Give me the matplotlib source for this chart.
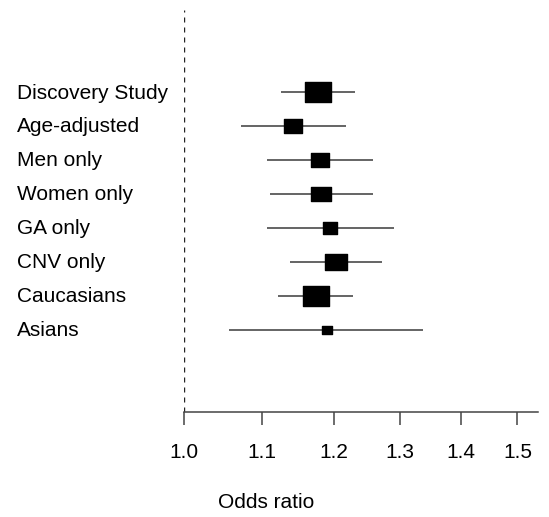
import matplotlib
matplotlib.use("Agg")
import matplotlib.pyplot as plt
from matplotlib.path import Path
from matplotlib.ticker import FixedLocator, NullLocator, FuncFormatter
from matplotlib.transforms import blended_transform_factory

plt.rcParams['font.family'] = ['Liberation Sans', 'DejaVu Sans']

# forest plot data (odds ratios, 95% CI)
studies = ["Discovery Study", "Age-adjusted", "Men only", "Women only",
           "GA only", "CNV only", "Caucasians", "Asians"]
odds = [1.177, 1.142, 1.180, 1.182, 1.195, 1.203, 1.174, 1.190]
ci_low = [1.126, 1.072, 1.106, 1.111, 1.106, 1.138, 1.121, 1.057]
ci_high = [1.231, 1.218, 1.258, 1.258, 1.291, 1.273, 1.229, 1.338]
# relative box size (study weight)
weight = [1.0, 0.73, 0.73, 0.74, 0.58, 0.82, 1.0, 0.40]
xticks = [1.0, 1.1, 1.2, 1.3, 1.4, 1.5]

W, H = 549, 517
fs = 15
fig = plt.figure(figsize=(W / 100, H / 100), dpi=100)
ax = fig.add_axes([183.7 / W, 1 - 411.7 / H, (538 - 183.7) / W, (411.7 - 10) / H])

ax.set_xscale('log')
ax.set_xlim(1.0, 1.538)
ax.set_ylim(9.42, -2.43)

# box marker, a bit wider than tall
rect = Path([(-1, -0.78), (1, -0.78), (1, 0.78), (-1, 0.78), (-1, -0.78)], closed=True)

ax.axvline(1.0, color='#222222', lw=1.0, dashes=(3.6, 3.6))
for i in range(len(studies)):
    ax.plot([ci_low[i], ci_high[i]], [i, i], color='#3a3a3a', lw=1.1, solid_capstyle='butt')
    ax.plot(odds[i], i, marker=rect, color='black', markersize=weight[i] * 25.7 * 0.72,
            linestyle='none')

tr = blended_transform_factory(fig.transFigure, ax.transData)
for i, s in enumerate(studies):
    ax.text(17 / W, i + 0.02, s, transform=tr, ha='left', va='center', fontsize=fs)

for sp in ['top', 'right', 'left']:
    ax.spines[sp].set_visible(False)
ax.spines['bottom'].set_color('#444444')
ax.spines['bottom'].set_linewidth(1.1)
ax.set_yticks([])
ax.xaxis.set_major_locator(FixedLocator(xticks))
ax.xaxis.set_minor_locator(NullLocator())
ax.xaxis.set_major_formatter(FuncFormatter(lambda v, p: "%.1f" % v))
ax.tick_params(axis='x', direction='out', length=9.4, width=1.1, color='#444444',
               labelsize=fs, pad=13.3)

fig.text(266 / W, 1 - 508 / H, "Odds ratio", ha='center', va='baseline', fontsize=fs)

fig.savefig("out.png", dpi=100)
